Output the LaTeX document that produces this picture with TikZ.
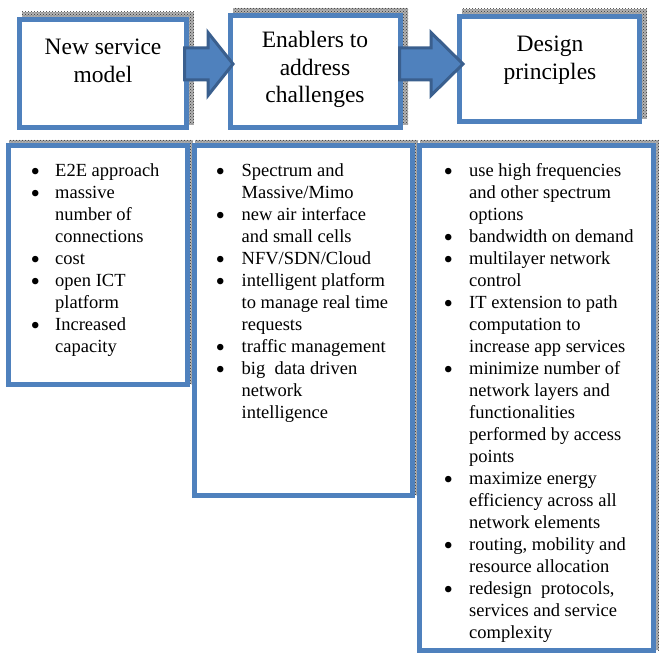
\documentclass[tikz,border=0pt]{standalone}
\usepackage{fontspec}
\setmainfont{Liberation Serif}
\usetikzlibrary{calc,patterns,backgrounds}
\definecolor{boxblue}{HTML}{4F81BD}
\definecolor{arrowedge}{HTML}{3A5F8E}
\tikzset{
  box/.style={draw=boxblue, line width=5pt, fill=white, rectangle, inner sep=0pt, outer sep=0pt},
  shadowfill/.style={fill=gray!60, postaction={pattern=crosshatch dots, pattern color=black!80}},
  blockarrow/.style={draw=arrowedge, fill=boxblue, line width=3pt, line join=miter},
  title/.style={inner sep=0pt, anchor=base, font=\fontsize{23.5}{27.5}\selectfont},
  listtext/.style={inner sep=0pt, anchor=base west, font=\fontsize{18.5}{22}\selectfont},
}
\newcommand\bul{\smash{\raisebox{-3.2pt}{\fontsize{27}{22}\selectfont\textbullet}}}
\newcommand\blockarrow[3]{%
  \draw[blockarrow] let \p1=(#1), \p2=(#2) in
    (\x1,\y1+16pt) -- (\x2-#3,\y1+16pt) -- (\x2-#3,\y2+31.5pt) -- (\x2,\y2)
    -- (\x2-#3,\y2-31.5pt) -- (\x2-#3,\y1-16pt) -- (\x1,\y1-16pt) -- cycle;}
\begin{document}
\begin{tikzpicture}[x=1pt,y=-1pt]
\useasboundingbox (0,0) rectangle (659,655);
% boxes
\node[box, minimum width=167pt, minimum height=108pt] (b1) at (103,73.5) {};
\node[box, minimum width=170pt, minimum height=112pt] (b2) at (315.5,71.5) {};
\node[box, minimum width=180pt, minimum height=105pt] (b3) at (549.5,69) {};
\node[box, minimum width=179pt, minimum height=239pt] (bA) at (98,265) {};
\node[box, minimum width=218pt, minimum height=350pt] (bB) at (303.5,320.5) {};
\node[box, minimum width=234pt, minimum height=505pt] (bC) at (536.5,398) {};
% shadows
\begin{pgfonlayer}{background}
\foreach \b in {b1,b2,b3}
  \fill[shadowfill] ([shift={(2.5,-2.5)}]\b.south west) rectangle ([shift={(7.5,-7.5)}]\b.north east);
\foreach \b in {bA,bB,bC}
  \fill[shadowfill] ([shift={(0.5,-0.5)}]\b.south west) rectangle ([shift={(5.5,-5.5)}]\b.north east);
\end{pgfonlayer}
% block arrows
\coordinate (lvl) at (0,64);
\blockarrow{[xshift=-2pt]b1.east |- lvl}{[xshift=2.5pt]b2.west |- lvl}{25pt}
\blockarrow{[xshift=-1pt]b2.east |- lvl}{[xshift=3.5pt]b3.west |- lvl}{32pt}
% titles
\node[title] (t1) at (103,55) {\begin{tabular}[t]{@{}c@{}}New service\\model\end{tabular}};
\node[title] (t2) at (315,48) {\begin{tabular}[t]{@{}c@{}}Enablers to\\address\\challenges\end{tabular}};
\node[title] (t3) at (550,52) {\begin{tabular}[t]{@{}c@{}}Design\\principles\end{tabular}};
% lists
\node[listtext] (lA) at (30.5,177) {\begin{tabular}[t]{@{}p{24.5pt}@{}l@{}}
\bul & E2E approach\\
\bul & massive\\
 & number of\\
 & connections\\
\bul & cost\\
\bul & open ICT\\
 & platform\\
\bul & Increased\\
 & capacity
\end{tabular}};
\node[listtext] (lB) at (215.5,177) {\begin{tabular}[t]{@{}p{26pt}@{}l@{}}
\bul & Spectrum and\\
 & Massive/Mimo\\
\bul & new air interface\\
 & and small cells\\
\bul & NFV/SDN/Cloud\\
\bul & intelligent platform\\
 & to manage real time\\
 & requests\\
\bul & traffic management\\
\bul & big\ \ data driven\\
 & network\\
 & intelligence
\end{tabular}};
\node[listtext] (lC) at (443.5,177) {\begin{tabular}[t]{@{}p{25.5pt}@{}l@{}}
\bul & use high frequencies\\
 & and other spectrum\\
 & options\\
\bul & bandwidth on demand\\
\bul & multilayer network\\
 & control\\
\bul & IT extension to path\\
 & computation to\\
 & increase app services\\
\bul & minimize number of\\
 & network layers and\\
 & functionalities\\
 & performed by access\\
 & points\\
\bul & maximize energy\\
 & efficiency across all\\
 & network elements\\
\bul & routing, mobility and\\
 & resource allocation\\
\bul & redesign\ \ protocols,\\
 & services and service\\
 & complexity
\end{tabular}};
\end{tikzpicture}
\end{document}
